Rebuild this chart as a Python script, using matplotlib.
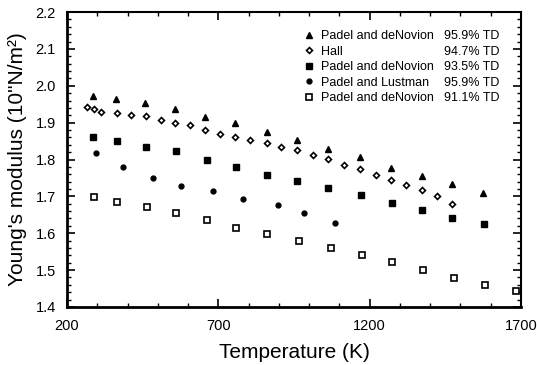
import numpy as np
import matplotlib
matplotlib.use("Agg")
from matplotlib import pyplot as plt
from matplotlib.ticker import MultipleLocator, FormatStrFormatter

plt.rcParams['font.family'] = ['Liberation Sans', 'DejaVu Sans']

# Padel and deNovion 95.9% TD
t_pd959 = [287, 362, 458, 557, 656, 755, 860, 960, 1062, 1168, 1270, 1372, 1473, 1575]
e_pd959 = [1.973, 1.963, 1.953, 1.937, 1.915, 1.898, 1.875, 1.854, 1.828, 1.807,
           1.778, 1.756, 1.733, 1.708]

# Hall 94.7% TD
t_hall = [265, 288, 312, 364, 411, 461, 510, 557, 606, 656, 705, 756, 805, 860,
          907, 959, 1012, 1061, 1116, 1168, 1221, 1270, 1320, 1374, 1423, 1473]
e_hall = [1.943, 1.937, 1.929, 1.927, 1.921, 1.918, 1.908, 1.900, 1.893, 1.881,
          1.869, 1.860, 1.852, 1.845, 1.835, 1.827, 1.812, 1.802, 1.785, 1.773,
          1.757, 1.744, 1.730, 1.717, 1.701, 1.678]

# Padel and deNovion 93.5% TD
t_pd935 = [287, 366, 460, 560, 662, 758, 860, 959, 1063, 1172, 1275, 1374, 1473, 1578]
e_pd935 = [1.860, 1.849, 1.835, 1.822, 1.798, 1.780, 1.757, 1.741, 1.724, 1.705,
           1.682, 1.664, 1.642, 1.625]

# Padel and Lustman 95.9% TD
t_pl = [295, 386, 483, 578, 681, 780, 898, 983, 1085]
e_pl = [1.818, 1.780, 1.750, 1.728, 1.714, 1.694, 1.676, 1.655, 1.629]

# Padel and deNovion 91.1% TD
t_pd911 = [288, 366, 465, 560, 662, 758, 860, 966, 1071, 1174, 1273, 1377, 1478, 1581, 1682]
e_pd911 = [1.699, 1.685, 1.671, 1.656, 1.637, 1.613, 1.598, 1.579, 1.559, 1.541,
           1.521, 1.500, 1.479, 1.461, 1.443]

names = ["Padel and deNovion", "Hall", "Padel and deNovion",
         "Padel and Lustman", "Padel and deNovion"]
densities = ["95.9% TD", "94.7% TD", "93.5% TD", "95.9% TD", "91.1% TD"]
x_ticks = [200, 700, 1200, 1700]

fig = plt.figure(figsize=(5.37, 3.65), dpi=100)
ax = fig.add_axes([67 / 537, 1 - 307 / 365, 454 / 537, 295 / 365])

h1, = ax.plot(t_pd959, e_pd959, '^', color='black', markersize=4, linestyle='none')
h2, = ax.plot(t_hall, e_hall, 'D', mfc='white', mec='black', mew=1.2,
              markersize=3, linestyle='none')
h3, = ax.plot(t_pd935, e_pd935, 's', color='black', markersize=4.6, linestyle='none')
h4, = ax.plot(t_pl, e_pl, 'o', color='black', markersize=3.5, linestyle='none')
h5, = ax.plot(t_pd911, e_pd911, 's', mfc='white', mec='black', mew=1.2,
              markersize=4.2, linestyle='none')
handles = [h1, h2, h3, h4, h5]

ax.set_xlim(200, 1700)
ax.set_ylim(1.4, 2.2)
ax.set_xticks(x_ticks)
ax.xaxis.set_minor_locator(MultipleLocator(100))
ax.yaxis.set_major_locator(MultipleLocator(0.1))
ax.yaxis.set_minor_locator(MultipleLocator(0.02))
ax.yaxis.set_major_formatter(FormatStrFormatter('%.1f'))
ax.tick_params(which='both', direction='in', top=True, right=True, labelsize=10.5)
ax.tick_params(which='major', length=6, width=1.2)
ax.tick_params(which='minor', length=3, width=1)
ax.tick_params(axis='x', pad=9)
ax.tick_params(axis='y', pad=8)
for side in ['left', 'bottom']:
    ax.spines[side].set_linewidth(2)
for side in ['top', 'right']:
    ax.spines[side].set_linewidth(1.5)

ax.set_xlabel("Temperature (K)", fontsize=15, labelpad=7)
ax.set_ylabel("Young's modulus (10\"N/m²)", fontsize=15, labelpad=6)

leg1 = ax.legend(handles, names, loc='upper left', bbox_to_anchor=(0.51, 0.955),
                 frameon=False, fontsize=9, handlelength=0.8, handletextpad=0.6,
                 labelspacing=0.28, borderaxespad=0)
ax.add_artist(leg1)
blank = [plt.Line2D([], [], linestyle='none') for _ in densities]
ax.legend(blank, densities, loc='upper left', bbox_to_anchor=(0.819, 0.955),
          frameon=False, fontsize=9, handlelength=0, handletextpad=0,
          labelspacing=0.28, borderaxespad=0)

fig.savefig("out.png", dpi=100)
